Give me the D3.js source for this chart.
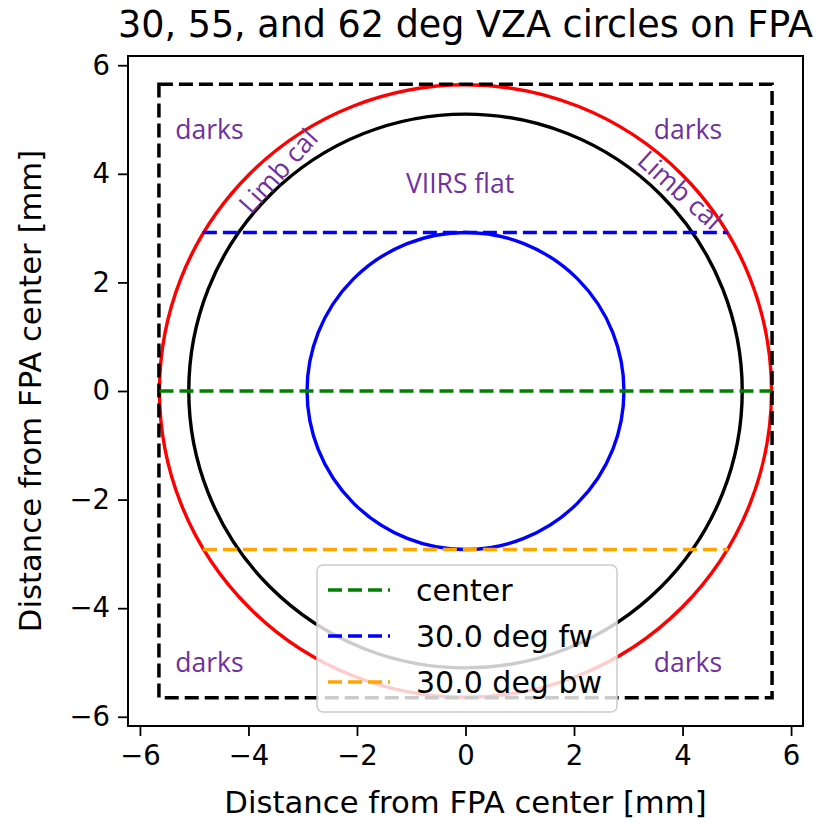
<!DOCTYPE html>
<html>
<head>
<meta charset="utf-8">
<script src="https://cdn.jsdelivr.net/npm/d3@7"></script>
<style>
  body { margin: 0; background: #fff; }
  svg { display: block; }
</style>
</head>
<body>
<svg></svg>
<script>
// VZA circles (deg) and their radius on the FPA (mm)
var vzaDeg = [30, 55, 62];
var vzaRadius = [2.92, 5.1, 5.64];

// horizontal dashed lines
var lineLabels = ["center", "30.0 deg fw", "30.0 deg bw"];
var lineY = [0, 2.92, -2.92];
var lineX0 = [-5.64, -4.84, -4.84];
var lineX1 = [5.64, 4.84, 4.84];

// FPA outline half size (mm)
var fpaHalf = 5.65;

// region annotations
var noteText = ["darks", "darks", "darks", "darks", "VIIRS flat", "Limb cal", "Limb cal"];
var noteX = [-4.72, 4.1, -4.72, 4.1, -0.1, -3.45, 3.95];
var noteY = [4.81, 4.81, -5.0, -5.0, 3.82, 4.05, 3.7];
var noteAngle = [0, 0, 0, 0, 0, -48, 42];

var xTicks = [-6, -4, -2, 0, 2, 4, 6];
var yTicks = [-6, -4, -2, 0, 2, 4, 6];

var w = 822, h = 822;
var mLeft = 128, mRight = 803, mTop = 56, mBottom = 726;

var circleColors = ["blue", "black", "red"];
var lineColors = ["green", "blue", "orange"];
var purple = "#7030a0";

var svg = d3.select("svg")
    .attr("width", w)
    .attr("height", h)
    .style("font-family", "'DejaVu Sans', sans-serif");

var x = d3.scaleLinear().domain([-6.22, 6.22]).range([mLeft, mRight]);
var y = d3.scaleLinear().domain([-6.17, 6.17]).range([mBottom, mTop]);

svg.append("clipPath").attr("id", "clip")
    .append("rect")
    .attr("x", mLeft).attr("y", mTop)
    .attr("width", mRight - mLeft).attr("height", mBottom - mTop);

var plot = svg.append("g").attr("clip-path", "url(#clip)");

// circles
plot.selectAll("ellipse")
    .data(vzaRadius)
    .enter()
    .append("ellipse")
    .attr("cx", x(0))
    .attr("cy", y(0))
    .attr("rx", function (d) { return x(d) - x(0); })
    .attr("ry", function (d) { return y(0) - y(d); })
    .attr("fill", "none")
    .attr("stroke", function (d, i) { return circleColors[i]; })
    .attr("stroke-width", 3.4);

// FPA outline
plot.append("rect")
    .attr("x", x(-fpaHalf))
    .attr("y", y(fpaHalf))
    .attr("width", x(fpaHalf) - x(-fpaHalf))
    .attr("height", y(-fpaHalf) - y(fpaHalf))
    .attr("fill", "none")
    .attr("stroke", "black")
    .attr("stroke-width", 3.5)
    .attr("stroke-dasharray", "14,6");

// dashed lines
plot.selectAll("line.hl")
    .data(lineY)
    .enter()
    .append("line")
    .attr("class", "hl")
    .attr("x1", function (d, i) { return x(lineX0[i]); })
    .attr("x2", function (d, i) { return x(lineX1[i]); })
    .attr("y1", function (d) { return y(d); })
    .attr("y2", function (d) { return y(d); })
    .attr("stroke", function (d, i) { return lineColors[i]; })
    .attr("stroke-width", 3.5)
    .attr("stroke-dasharray", "14,6");

// annotations
svg.selectAll("text.note")
    .data(noteText)
    .enter()
    .append("text")
    .attr("class", "note")
    .attr("transform", function (d, i) {
        return "translate(" + x(noteX[i]) + "," + y(noteY[i]) + ") rotate(" + noteAngle[i] + ")";
    })
    .attr("text-anchor", "middle")
    .attr("dy", "0.35em")
    .attr("fill", purple)
    .style("font-family", "'Open Sans', sans-serif")
    .style("font-size", "26.5px")
    .text(function (d) { return d; });

// axes
var fmt = function (d) { return d < 0 ? "\u2212" + Math.abs(d) : d; };
var xAxis = svg.append("g")
    .attr("transform", "translate(0," + mBottom + ")")
    .call(d3.axisBottom(x).tickValues(xTicks).tickSize(10).tickPadding(9).tickFormat(fmt));
var yAxis = svg.append("g")
    .attr("transform", "translate(" + mLeft + ",0)")
    .call(d3.axisLeft(y).tickValues(yTicks).tickSize(10).tickPadding(8).tickFormat(fmt));

[xAxis, yAxis].forEach(function (a) {
    a.select(".domain").remove();
    a.selectAll("line").attr("stroke", "black").attr("stroke-width", 1.8);
    a.selectAll("text")
        .attr("fill", "black")
        .style("font-family", "'DejaVu Sans', sans-serif")
        .style("font-size", "27.5px");
});

svg.append("rect")
    .attr("x", mLeft).attr("y", mTop)
    .attr("width", mRight - mLeft).attr("height", mBottom - mTop)
    .attr("fill", "none")
    .attr("stroke", "black")
    .attr("stroke-width", 2);

// legend
var lg = svg.append("g");
lg.append("rect")
    .attr("x", 317).attr("y", 565)
    .attr("width", 300).attr("height", 147)
    .attr("rx", 6)
    .attr("fill", "white")
    .attr("fill-opacity", 0.8)
    .attr("stroke", "#cccccc")
    .attr("stroke-width", 1.5);

var rows = lg.selectAll("g.row")
    .data(lineLabels)
    .enter()
    .append("g")
    .attr("transform", function (d, i) { return "translate(0," + (590 + i * 46) + ")"; });
rows.append("line")
    .attr("x1", 328).attr("x2", 390)
    .attr("stroke", function (d, i) { return lineColors[i]; })
    .attr("stroke-width", 3.5)
    .attr("stroke-dasharray", "14,6");
rows.append("text")
    .attr("x", 416)
    .attr("dy", "0.36em")
    .style("font-size", "30px")
    .text(function (d) { return d; });

// titles
svg.append("text")
    .attr("x", (mLeft + mRight) / 2)
    .attr("y", 37)
    .attr("text-anchor", "middle")
    .style("font-size", "36.5px")
    .text("30, 55, and 62 deg VZA circles on FPA");

svg.append("text")
    .attr("x", (mLeft + mRight) / 2)
    .attr("y", 813)
    .attr("text-anchor", "middle")
    .style("font-size", "30.7px")
    .text("Distance from FPA center [mm]");

svg.append("text")
    .attr("transform", "translate(41," + ((mTop + mBottom) / 2) + ") rotate(-90)")
    .attr("text-anchor", "middle")
    .style("font-size", "30.7px")
    .text("Distance from FPA center [mm]");
</script>
</body>
</html>
